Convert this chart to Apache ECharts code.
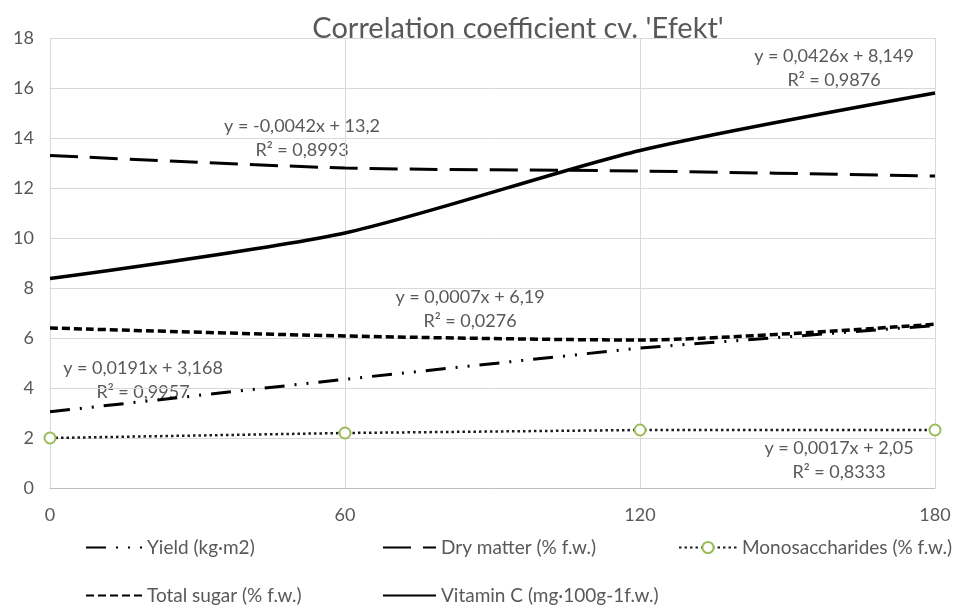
<!DOCTYPE html>
<html><head><meta charset="utf-8">
<script src="https://cdn.jsdelivr.net/npm/echarts@6/dist/echarts.min.js"></script>
<style>html,body{margin:0;padding:0;background:#fff}#c{width:959px;height:609px}</style>
</head><body><div id="c"></div>
<script>
const xValues = [0, 60, 120, 180];
const xTicks = [0, 60, 120, 180];
const yield_ = [3.05, 4.35, 5.6, 6.5];
const dryMatter = [13.3, 12.8, 12.68, 12.48];
const monosaccharides = [2.0, 2.2, 2.32, 2.32];
const totalSugar = [6.4, 6.08, 5.92, 6.55];
const vitaminC = [8.38, 10.2, 13.5, 15.8];
const names = ['Yield (kg·m2)', 'Dry matter (% f.w.)', 'Monosaccharides (% f.w.)', 'Total sugar (% f.w.)', 'Vitamin C (mg·100g-1f.w.)'];
const eqs = [
  ['y = 0,0191x + 3,168', 'R² = 0,9957', 143, 368],
  ['y = -0,0042x + 13,2', 'R² = 0,8993', 302, 126],
  ['y = 0,0017x + 2,05', 'R² = 0,8333', 839, 448],
  ['y = 0,0007x + 6,19', 'R² = 0,0276', 470, 297],
  ['y = 0,0426x + 8,149', 'R² = 0,9876', 834, 56]
];
const FONT = 'Lato';
const GRAY = '#595959';
const pair = (xs, ys) => xs.map((x, i) => [x, ys[i]]);
const chart = echarts.init(document.getElementById('c'));
const legendAt = (name, left, top, w, pad, hideSym) => ({data:[name], left:left, top:top, itemWidth:w, itemHeight:14,
  selectedMode:false, itemStyle: hideSym ? {opacity:0} : {},
  textStyle:{color:GRAY, fontFamily:FONT, fontSize:19, padding:[0,0,0,pad]}});
chart.setOption({
  animation:false,
  title:{text:"Correlation coefficient cv. 'Efekt'", left:513, top:9, textAlign:'center',
    textStyle:{color:GRAY, fontFamily:FONT, fontWeight:'normal', fontSize:29}},
  grid:{left:50, right:24, top:38, bottom:121},
  xAxis:{type:'value', min:0, max:180, interval:60,
    axisLine:{lineStyle:{color:'#bfbfbf'}}, axisTick:{show:false},
    axisLabel:{color:GRAY, fontFamily:FONT, fontSize:18, margin:18},
    splitLine:{show:true, lineStyle:{color:'#d9d9d9', width:1}}},
  yAxis:{type:'value', min:0, max:18, interval:2,
    axisLine:{show:true, lineStyle:{color:'#d9d9d9'}}, axisTick:{show:false},
    axisLabel:{color:GRAY, fontFamily:FONT, fontSize:18, margin:16},
    splitLine:{lineStyle:{color:'#d9d9d9', width:1}}},
  legend:[
    legendAt(names[0], 80, 533, 56, 0, true),
    legendAt(names[1], 377, 533, 53, 0, true),
    legendAt(names[2], 673, 533, 58, 0, false),
    legendAt(names[3], 80, 581, 56, 0, true),
    legendAt(names[4], 377, 581, 53, 0, true)
  ],
  graphic: eqs.flatMap(e => [
    {type:'text', x:e[2], y:e[3], style:{text:e[0], fill:GRAY, font:'18px '+FONT, textAlign:'center', textVerticalAlign:'middle'}},
    {type:'text', x:e[2], y:e[3]+24, style:{text:e[1], fill:GRAY, font:'18px '+FONT, textAlign:'center', textVerticalAlign:'middle'}}
  ]),
  series:[
    {name:names[0], type:'line', data:pair(xValues, yield_), symbol:'none', z:2,
      itemStyle:{color:'#000'}, lineStyle:{color:'#000', width:3, type:[20,10,2,10,2,10]}},
    {name:names[1], type:'line', data:pair(xValues, dryMatter), symbol:'none', z:2, smooth:0.25,
      itemStyle:{color:'#000'}, lineStyle:{color:'#000', width:3, type:[28,12]}},
    {name:names[2], type:'line', data:pair(xValues, monosaccharides), symbol:'emptyCircle', symbolSize:11, z:4,
      itemStyle:{color:'#9bbb59', borderColor:'#9bbb59', borderWidth:2.5},
      lineStyle:{color:'#1a1a1a', width:2.5, type:[2.5,3]}},
    {name:names[3], type:'line', data:pair(xValues, totalSugar), symbol:'none', z:2, smooth:0.25,
      itemStyle:{color:'#000'}, lineStyle:{color:'#000', width:3.5, type:[8,4]}},
    {name:names[4], type:'line', data:pair(xValues, vitaminC), symbol:'none', z:2, smooth:0.25,
      itemStyle:{color:'#000'}, lineStyle:{color:'#000', width:3.5}}
  ]
});
</script></body></html>
